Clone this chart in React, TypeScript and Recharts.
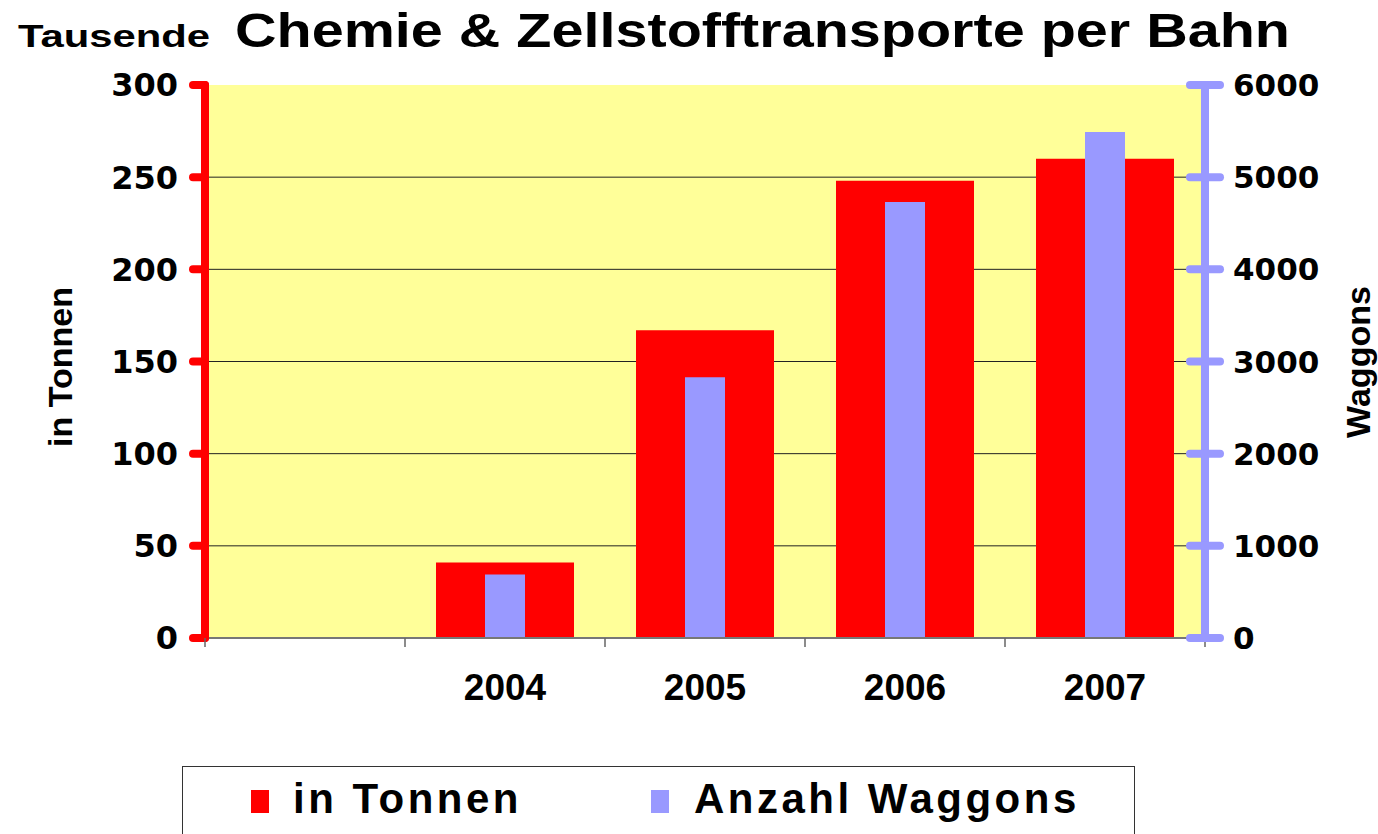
import React from 'react';
import {
  ComposedChart,
  Bar,
  XAxis,
  YAxis,
  CartesianGrid,
} from 'recharts';

// values
const categories = ['', '2004', '2005', '2006', '2007'];
const tonnen = [null, 41, 167, 248, 260];
const waggons = [null, 690, 2830, 4730, 5490];
const tonnenTicks = [0, 50, 100, 150, 200, 250, 300];
const waggonTicks = [0, 1000, 2000, 3000, 4000, 5000, 6000];

const data = categories.map((year, i) => ({
  year,
  tonnen: tonnen[i],
  waggons: waggons[i],
}));

const W = 1378;
const H = 834;
const PLOT_LEFT = 205;
const PLOT_RIGHT = 1205;
const PLOT_TOP = 85;
const PLOT_BOTTOM = 638;
const BAND = (PLOT_RIGHT - PLOT_LEFT) / categories.length;

const RED = '#FF0000';
const BLUE = '#9999FF';
const YELLOW = '#FFFF99';
const SANS = '"Liberation Sans", Arial, sans-serif';
const WIDE = '"DejaVu Sans", Verdana, sans-serif';

const YearTick = (props: any) => {
  const { x, payload, index } = props;
  const half = BAND / 2;
  return (
    <g>
      <line x1={x - half} x2={x - half} y1={PLOT_BOTTOM} y2={PLOT_BOTTOM + 9} stroke="#666" strokeWidth={1.5} />
      {index === categories.length - 1 && (
        <line x1={x + half} x2={x + half} y1={PLOT_BOTTOM} y2={PLOT_BOTTOM + 9} stroke="#666" strokeWidth={1.5} />
      )}
      <text x={x} y={700} textAnchor="middle" fontFamily={SANS} fontWeight="bold" fontSize={37} fill="#000">
        {payload.value}
      </text>
    </g>
  );
};

const WaggonTick = (props: any) => {
  const { y, payload } = props;
  return (
    <g>
      <line x1={PLOT_RIGHT - 15} x2={PLOT_RIGHT + 15} y1={y} y2={y} stroke={BLUE} strokeWidth={8} strokeLinecap="round" />
      <text x={1233} y={y} dy="0.36em" textAnchor="start" fontFamily={WIDE} fontWeight="bold" fontSize={31} fill="#000">
        {payload.value}
      </text>
    </g>
  );
};

const App: React.FC = () => {
  return (
    <div style={{ position: 'absolute', left: 0, top: 0, width: W, height: H, background: '#fff', overflow: 'hidden' }}>
      <ComposedChart
        width={W}
        height={H}
        data={data}
        margin={{ top: PLOT_TOP, right: W - PLOT_RIGHT - 160, left: PLOT_LEFT - 120, bottom: H - PLOT_BOTTOM - 80 }}
      >
        <CartesianGrid
          yAxisId="left"
          xAxisId="a"
          vertical={false}
          horizontalValues={[50, 100, 150, 200, 250]}
          stroke="#222"
          fill={YELLOW}
          fillOpacity={1}
        />
        <XAxis
          xAxisId="a"
          dataKey="year"
          height={80}
          interval={0}
          axisLine={{ stroke: '#777', strokeWidth: 2 }}
          tickLine={false}
          tick={<YearTick />}
        />
        <XAxis xAxisId="b" dataKey="year" hide />
        <YAxis
          yAxisId="left"
          orientation="left"
          width={120}
          domain={[0, 300]}
          ticks={tonnenTicks}
          interval={0}
          axisLine={{ stroke: RED, strokeWidth: 8, strokeLinecap: 'round' }}
          tickLine={{ stroke: RED, strokeWidth: 8, strokeLinecap: 'round' }}
          tickSize={12}
          tickMargin={15}
          tick={{ fill: '#000', fontSize: 32, fontWeight: 'bold', fontFamily: WIDE }}
        />
        <YAxis
          yAxisId="right"
          orientation="right"
          width={160}
          domain={[0, 6000]}
          ticks={waggonTicks}
          interval={0}
          axisLine={{ stroke: BLUE, strokeWidth: 8, strokeLinecap: 'round' }}
          tickLine={false}
          tick={<WaggonTick />}
        />
        <Bar xAxisId="a" yAxisId="left" dataKey="tonnen" name="in Tonnen" fill={RED} barSize={138} isAnimationActive={false} />
        <Bar xAxisId="b" yAxisId="right" dataKey="waggons" name="Anzahl Waggons" fill={BLUE} barSize={40} isAnimationActive={false} />
      </ComposedChart>

      <svg width={W} height={H} style={{ position: 'absolute', left: 0, top: 0, pointerEvents: 'none' }}>
        <text x={18} y={47} fontFamily={SANS} fontWeight="bold" fontSize={31} textLength={192} lengthAdjust="spacingAndGlyphs">
          Tausende
        </text>
        <text x={235} y={47} fontFamily={SANS} fontWeight="bold" fontSize={49} textLength={1055} lengthAdjust="spacingAndGlyphs">
          Chemie &amp; Zellstofftransporte per Bahn
        </text>
        <text
          x={72}
          y={367}
          transform="rotate(-90 72 367)"
          textAnchor="middle"
          fontFamily={SANS}
          fontWeight="bold"
          fontSize={34}
        >
          in Tonnen
        </text>
        <text
          x={1370}
          y={362}
          transform="rotate(-90 1370 362)"
          textAnchor="middle"
          fontFamily={SANS}
          fontWeight="bold"
          fontSize={34}
        >
          Waggons
        </text>
      </svg>

      <div
        style={{
          position: 'absolute',
          left: 182,
          top: 766,
          width: 953,
          height: 90,
          border: '1.5px solid #333',
          boxSizing: 'border-box',
          fontFamily: SANS,
          fontWeight: 'bold',
          fontSize: 42,
          letterSpacing: 3.5,
        }}
      >
        <div style={{ position: 'absolute', left: 68, top: 23, width: 18, height: 23, background: RED }} />
        <div style={{ position: 'absolute', left: 110, top: 8, lineHeight: '48px' }}>in Tonnen</div>
        <div style={{ position: 'absolute', left: 468, top: 23, width: 18, height: 23, background: BLUE }} />
        <div style={{ position: 'absolute', left: 511, top: 8, lineHeight: '48px' }}>Anzahl Waggons</div>
      </div>
    </div>
  );
};

export default App;
